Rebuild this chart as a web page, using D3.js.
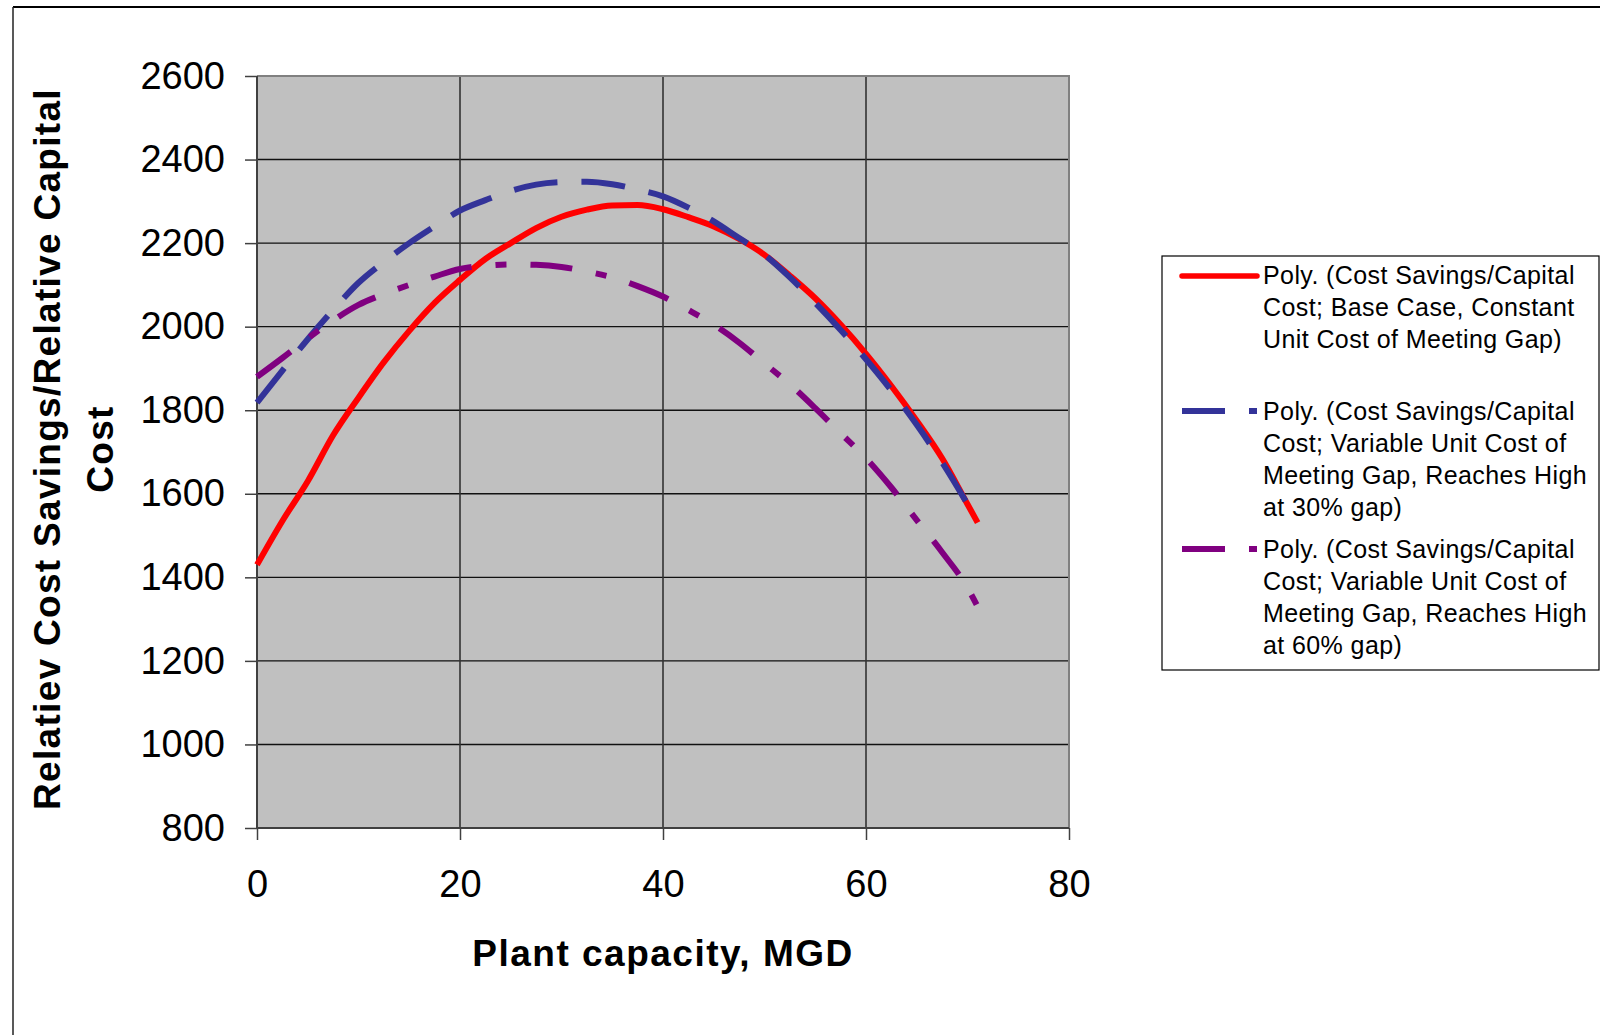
<!DOCTYPE html>
<html><head><meta charset="utf-8">
<script src="https://cdn.jsdelivr.net/npm/d3@7"></script>
<style>
body{margin:0;background:#fff;}
svg{display:block;font-family:"Liberation Sans",Arial,sans-serif;}
</style></head>
<body>
<svg id="chart" width="1600" height="1035"></svg>
<script>
// ---- data ----
const capacity = [0,2.5,5,7.5,10,12.5,15,17.5,20,22.5,25,27.5,30,32.5,35,37.5,40,42.5,45,47.5,50,52.5,55,57.5,60,62.5,65,67.5,70,71];
const baseCase = [1430,1535,1630,1740,1830,1915,1990,2057,2112,2162,2200,2236,2263,2280,2290,2291,2281,2262,2240,2210,2172,2122,2068,2005,1935,1858,1775,1685,1575,1531];
const gap30 = [1818,1895,1970,2040,2105,2155,2200,2240,2278,2303,2325,2340,2346,2347,2341,2328,2312,2285,2252,2212,2172,2118,2057,1992,1922,1847,1765,1675,1575,1533];
const gap60 = [1880,1925,1972,2015,2052,2078,2100,2120,2138,2146,2149,2148,2143,2132,2118,2097,2072,2040,2005,1962,1912,1862,1805,1745,1685,1615,1537,1460,1375,1330];
const xTicks = [0,20,40,60,80];
const yTicks = [800,1000,1200,1400,1600,1800,2000,2200,2400,2600];
const legendLines = [
  ["Poly. (Cost Savings/Capital","Cost; Base Case, Constant","Unit Cost of Meeting Gap)"],
  ["Poly. (Cost Savings/Capital","Cost; Variable Unit Cost of","Meeting Gap, Reaches High","at 30% gap)"],
  ["Poly. (Cost Savings/Capital","Cost; Variable Unit Cost of","Meeting Gap, Reaches High","at 60% gap)"]
];
const xTitle = "Plant capacity, MGD";
const yTitleLines = ["Relatiev Cost Savings/Relative Capital","Cost"];

// ---- layout ----
const svg = d3.select("#chart");
const L = 257, R = 1069, T = 76, B = 828;
const x = d3.scaleLinear().domain([0,80]).range([L,R]);
const y = d3.scaleLinear().domain([800,2600]).range([B,T]);

// outer chart border (partially visible)
svg.append("line").attr("x1",13).attr("x2",1600).attr("y1",7).attr("y2",7).attr("stroke","#000").attr("stroke-width",2);
svg.append("line").attr("x1",13).attr("x2",13).attr("y1",7).attr("y2",1035).attr("stroke","#222").attr("stroke-width",1.5);

// plot area
svg.append("rect").attr("x",L).attr("y",T).attr("width",R-L).attr("height",B-T).attr("fill","#C0C0C0");

// gridlines
svg.append("g").selectAll("line").data(yTicks.filter(d=>d>800 && d<2600)).join("line")
  .attr("x1",L).attr("x2",R).attr("y1",d=>y(d)).attr("y2",d=>y(d))
  .attr("stroke","#111").attr("stroke-width",1.4);
svg.append("g").selectAll("line").data(xTicks.filter(d=>d>0 && d<80)).join("line")
  .attr("x1",d=>x(d)).attr("x2",d=>x(d)).attr("y1",T).attr("y2",B)
  .attr("stroke","#333").attr("stroke-width",1.6);

// plot border top/right
svg.append("path").attr("d",`M${L},${T}H${R}V${B}`).attr("fill","none").attr("stroke","#808080").attr("stroke-width",2);

// axes
const yAxis = d3.axisLeft(y).tickValues(yTicks).tickSize(12).tickPadding(20).tickFormat(d3.format("d"));
const gy = svg.append("g").attr("transform",`translate(${L},0)`).call(yAxis);
const xAxis = d3.axisBottom(x).tickValues(xTicks).tickSize(12).tickPadding(30).tickFormat(d3.format("d"));
const gx = svg.append("g").attr("transform",`translate(0,${B})`).call(xAxis);
[gx,gy].forEach(g=>{
  g.select(".domain").attr("stroke","#404040").attr("stroke-width",2);
  g.selectAll(".tick line").attr("stroke","#404040").attr("stroke-width",1.5);
  g.selectAll("text").attr("font-size",38).attr("fill","#000").attr("font-family","Liberation Sans, Arial, sans-serif");
});
gy.select(".domain").attr("d",`M0,${T}V${B}`);
gx.select(".domain").attr("d",`M${L},0H${R}`);

// series (drawn red first, then blue, then purple on top)
const line = d3.line().x(d=>x(d[0])).y(d=>y(d[1])).curve(d3.curveMonotoneX);
const series = [
  {vals: baseCase, color:"#FF0000", dash:null, w:6},
  {vals: gap30, color:"#333399", dash:"44,24", w:6},
  {vals: gap60, color:"#800080", dash:"42,24,11,24", w:6}
];
series.forEach(s=>{
  svg.append("path").datum(capacity.map((c,i)=>[c,s.vals[i]]))
    .attr("d",line).attr("fill","none").attr("stroke",s.color)
    .attr("stroke-width",s.w).attr("stroke-dasharray",s.dash)
    .attr("stroke-linejoin","round");
});

// axis titles
svg.append("text").attr("x",(L+R)/2).attr("y",966).attr("text-anchor","middle")
  .attr("font-size",37).attr("font-weight","bold").attr("letter-spacing",1.5).text(xTitle);
const yt = svg.append("text").attr("transform","translate(0,449) rotate(-90)")
  .attr("text-anchor","middle").attr("font-size",37).attr("font-weight","bold").attr("letter-spacing",1.3);
yt.append("tspan").attr("x",0).attr("y",60).text(yTitleLines[0]);
yt.append("tspan").attr("x",0).attr("y",113).text(yTitleLines[1]);

// legend
const lg = svg.append("g");
lg.append("rect").attr("x",1162).attr("y",256).attr("width",437).attr("height",414)
  .attr("fill","#fff").attr("stroke","#000").attr("stroke-width",1.2);
const legY = [276, 411, 549];
const legBase = [284, 420, 558];
const legColors = ["#FF0000","#333399","#800080"];
legColors.forEach((c,i)=>{
  if(i===0){
    lg.append("line").attr("x1",1182).attr("x2",1257).attr("y1",legY[i]).attr("y2",legY[i])
      .attr("stroke",c).attr("stroke-width",5.5).attr("stroke-linecap","round");
  } else {
    lg.append("line").attr("x1",1182).attr("x2",1225).attr("y1",legY[i]).attr("y2",legY[i])
      .attr("stroke",c).attr("stroke-width",6);
    lg.append("line").attr("x1",1249).attr("x2",1257).attr("y1",legY[i]).attr("y2",legY[i])
      .attr("stroke",c).attr("stroke-width",6);
  }
  legendLines[i].forEach((t,j)=>{
    lg.append("text").attr("x",1263).attr("y",legBase[i]+j*32)
      .attr("font-size",25).attr("letter-spacing",0.4).attr("fill","#000").text(t);
  });
});
</script>
</body></html>
